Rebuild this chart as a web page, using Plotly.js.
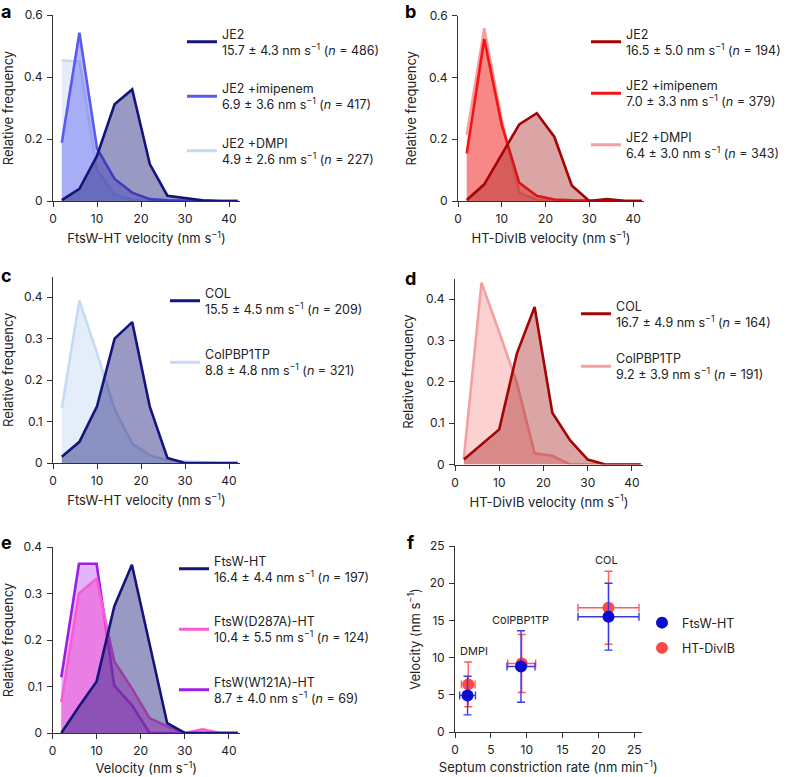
<!DOCTYPE html>
<html><head><meta charset="utf-8">
<script src="https://cdn.plot.ly/plotly-3.0.1.min.js"></script>
<style>body{margin:0;background:#fff}#chart{width:786px;height:777px}</style>
</head><body><div id="chart"></div>
<script>
// ---- data ----
const velocityBins = [2, 6, 10, 14, 18, 22, 26, 30, 34, 38, 42];

// panel a (FtsW-HT)
const aJE2      = [0.003, 0.039, 0.146, 0.312, 0.360, 0.119, 0.017, 0.010, 0.002, 0, 0];
const aImipenem = [0.188, 0.543, 0.170, 0.071, 0.027, 0.006, 0.002, 0, 0, 0, 0];
const aDMPI     = [0.454, 0.450, 0.100, 0.020, 0.004, 0, 0, 0, 0, 0, 0];
const aNames = ["JE2<br>15.7 ± 4.3 nm s<sup>−1</sup> (<i>n</i> = 486)",
                "JE2 +imipenem<br>6.9 ± 3.6 nm s<sup>−1</sup> (<i>n</i> = 417)",
                "JE2 +DMPI<br>4.9 ± 2.6 nm s<sup>−1</sup> (<i>n</i> = 227)"];

// panel b (HT-DivIB)
const bJE2      = [0.003, 0.054, 0.151, 0.248, 0.284, 0.208, 0.050, 0.000, 0.006, 0.001, 0];
const bImipenem = [0.154, 0.524, 0.246, 0.059, 0.017, 0.005, 0.002, 0, 0, 0, 0];
const bDMPI     = [0.214, 0.559, 0.262, 0.027, 0.003, 0, 0, 0, 0, 0, 0];
const bNames = ["JE2<br>16.5 ± 5.0 nm s<sup>−1</sup> (<i>n</i> = 194)",
                "JE2 +imipenem<br>7.0 ± 3.3 nm s<sup>−1</sup> (<i>n</i> = 379)",
                "JE2 +DMPI<br>6.4 ± 3.0 nm s<sup>−1</sup> (<i>n</i> = 343)"];

// panel c (FtsW-HT)
const cCOL = [0.015, 0.051, 0.137, 0.300, 0.340, 0.136, 0.012, 0, 0, 0, 0];
const cPBP = [0.132, 0.392, 0.265, 0.130, 0.047, 0.019, 0.006, 0.004, 0.002, 0, 0];
const cNames = ["COL<br>15.5 ± 4.5 nm s<sup>−1</sup> (<i>n</i> = 209)",
                "ColPBP1TP<br>8.8 ± 4.8 nm s<sup>−1</sup> (<i>n</i> = 321)"];

// panel d (HT-DivIB)
const dCOL = [0.012, 0.048, 0.085, 0.269, 0.381, 0.125, 0.059, 0.012, 0, 0, 0];
const dPBP = [0.015, 0.440, 0.320, 0.197, 0.027, 0.021, 0, 0, 0, 0, 0];
const dNames = ["COL<br>16.7 ± 4.9 nm s<sup>−1</sup> (<i>n</i> = 164)",
                "ColPBP1TP<br>9.2 ± 3.9 nm s<sup>−1</sup> (<i>n</i> = 191)"];

// panel e
const eFtsW  = [0, 0.057, 0.111, 0.272, 0.362, 0.190, 0.021, 0, 0, 0, 0];
const eD287A = [0.066, 0.300, 0.332, 0.154, 0.096, 0.032, 0.014, 0, 0.008, 0, 0];
const eW121A = [0.120, 0.364, 0.364, 0.102, 0.060, 0, 0, 0, 0, 0, 0];
const eNames = ["FtsW-HT<br>16.4 ± 4.4 nm s<sup>−1</sup> (<i>n</i> = 197)",
                "FtsW(D287A)-HT<br>10.4 ± 5.5 nm s<sup>−1</sup> (<i>n</i> = 124)",
                "FtsW(W121A)-HT<br>8.7 ± 4.0 nm s<sup>−1</sup> (<i>n</i> = 69)"];

// panel f
const fConditions = ["DMPI", "ColPBP1TP", "COL"];
const fFtsWRate   = [1.75, 9.2, 21.4];
const fFtsWRateErr= [1.1, 1.95, 4.25];
const fFtsWVel    = [4.9, 8.8, 15.5];
const fFtsWVelErr = [2.6, 4.8, 4.5];
const fDivIBRate   = [1.85, 9.3, 21.4];
const fDivIBRateErr= [0.95, 1.95, 4.25];
const fDivIBVel    = [6.4, 9.2, 16.7];
const fDivIBVelErr = [3.0, 3.9, 4.9];

// ---- styling ----
const FONT = "Inter, 'Open Sans', sans-serif";
const navy = '#14147c', navyFill = 'rgba(28,28,122,0.45)';
const blueMid = '#5a5af2', blueMidFill = 'rgba(95,95,240,0.45)';
const blueLight = '#c4daf5', blueLightFill = 'rgba(196,218,245,0.45)';
const darkRed = '#a30505', darkRedFill = 'rgba(165,30,30,0.40)';
const red = '#f41414', redFill = 'rgba(245,45,45,0.45)';
const pinkLight = '#f5a0a0', pinkLightFill = 'rgba(245,140,140,0.40)';
const magenta = '#fb5ad8', magentaFill = 'rgba(240,80,215,0.55)';
const purple = '#9e1be8', purpleFill = 'rgba(175,60,235,0.38)';

const traces = [];
function hist(y, color, fill, n) {
  traces.push({x: velocityBins, y: y, xaxis: 'x' + n, yaxis: 'y' + n, type: 'scatter', mode: 'lines',
    line: {color: color, width: 2.6}, fill: 'tozeroy', fillcolor: fill, showlegend: false, hoverinfo: 'skip'});
}
function key(name, color, n, legendId) {
  traces.push({x: [null], y: [null], xaxis: 'x' + n, yaxis: 'y' + n, type: 'scatter', mode: 'lines',
    line: {color: color, width: 3}, name: name, legend: legendId, legendgroup: legendId + name, showlegend: true});
}

// a
hist(aDMPI, blueLight, blueLightFill, ''); hist(aImipenem, blueMid, blueMidFill, ''); hist(aJE2, navy, navyFill, '');
key(aNames[0], navy, '', 'legend'); key(aNames[1], blueMid, '', 'legend'); key(aNames[2], blueLight, '', 'legend');
// b
hist(bDMPI, pinkLight, pinkLightFill, 2); hist(bImipenem, red, redFill, 2); hist(bJE2, darkRed, darkRedFill, 2);
key(bNames[0], darkRed, 2, 'legend2'); key(bNames[1], red, 2, 'legend2'); key(bNames[2], pinkLight, 2, 'legend2');
// c
hist(cPBP, blueLight, blueLightFill, 3); hist(cCOL, navy, navyFill, 3);
key(cNames[0], navy, 3, 'legend3'); key(cNames[1], blueLight, 3, 'legend3');
// d
hist(dPBP, pinkLight, pinkLightFill, 4); hist(dCOL, darkRed, darkRedFill, 4);
key(dNames[0], darkRed, 4, 'legend4'); key(dNames[1], pinkLight, 4, 'legend4');
// e
hist(eW121A, purple, purpleFill, 5); hist(eD287A, magenta, magentaFill, 5); hist(eFtsW, navy, navyFill, 5);
key(eNames[0], navy, 5, 'legend5'); key(eNames[1], magenta, 5, 'legend5'); key(eNames[2], purple, 5, 'legend5');

// f
traces.push({x: fDivIBRate, y: fDivIBVel, xaxis: 'x6', yaxis: 'y6', type: 'scatter', mode: 'markers',
  name: 'HT-DivIB', legend: 'legend6', legendrank: 2, legendgroup: 'divib',
  marker: {color: '#ff4848', size: 12},
  error_x: {type: 'data', array: fDivIBRateErr, color: '#ff5a5a', thickness: 1.4, width: 4},
  error_y: {type: 'data', array: fDivIBVelErr, color: '#ff5a5a', thickness: 1.4, width: 4}});
traces.push({x: fFtsWRate, y: fFtsWVel, xaxis: 'x6', yaxis: 'y6', type: 'scatter', mode: 'markers',
  name: 'FtsW-HT', legend: 'legend6', legendrank: 1, legendgroup: 'ftsw',
  marker: {color: '#0a0ad0', size: 12},
  error_x: {type: 'data', array: fFtsWRateErr, color: '#3a3ae0', thickness: 1.4, width: 4},
  error_y: {type: 'data', array: fFtsWVelErr, color: '#3a3ae0', thickness: 1.4, width: 4}});

// ---- axes ----
const W = 786, H = 777;
const px = (a, b) => [a / W, b / W];
const py = (top, bottom) => [1 - bottom / H, 1 - top / H];
function ax(extra) {
  return Object.assign({showline: true, linecolor: '#333', linewidth: 1, ticks: 'outside', ticklen: 5,
    tickcolor: '#333', tickwidth: 1, showgrid: false, zeroline: false, fixedrange: true, ticklabelstandoff: 2,
    tickfont: {family: FONT, size: 12, color: '#222'}}, extra);
}
function ttl(t, standoff) { return {text: t, font: {family: FONT, size: 13, color: '#222'}, standoff: standoff}; }
const velTicks = [0, 10, 20, 30, 40];

const layout = {
  width: W, height: H, margin: {l: 0, r: 0, t: 0, b: 0}, paper_bgcolor: '#fff', plot_bgcolor: 'rgba(0,0,0,0)',
  font: {family: FONT, color: '#222'},
  xaxis:  ax({domain: px(53, 240), range: [0, 42.5], tickvals: velTicks, anchor: 'y', title: ttl('FtsW-HT velocity (nm s<sup>−1</sup>)', 8)}),
  yaxis:  ax({domain: py(15, 201), range: [0, 0.6], dtick: 0.2, anchor: 'x', title: ttl('Relative frequency', 9)}),
  xaxis2: ax({domain: px(458, 644), range: [0, 42.5], tickvals: velTicks, anchor: 'y2', title: ttl('HT-DivIB velocity (nm s<sup>−1</sup>)', 8)}),
  yaxis2: ax({domain: py(15.5, 201), range: [0, 0.6], dtick: 0.2, anchor: 'x2', title: ttl('Relative frequency', 9)}),
  xaxis3: ax({domain: px(53, 240), range: [0, 42.5], tickvals: velTicks, anchor: 'y3', title: ttl('FtsW-HT velocity (nm s<sup>−1</sup>)', 8)}),
  yaxis3: ax({domain: py(276.5, 463), range: [0, 0.45], tickvals: [0, 0.1, 0.2, 0.3, 0.4], anchor: 'x3', title: ttl('Relative frequency', 9)}),
  xaxis4: ax({domain: px(455, 643), range: [0, 42.5], tickvals: velTicks, anchor: 'y4', title: ttl('HT-DivIB velocity (nm s<sup>−1</sup>)', 8)}),
  yaxis4: ax({domain: py(278.5, 464.5), range: [0, 0.45], tickvals: [0, 0.1, 0.2, 0.3, 0.4], anchor: 'x4', title: ttl('Relative frequency', 9)}),
  xaxis5: ax({domain: px(52.5, 240), range: [0, 42.5], tickvals: velTicks, anchor: 'y5', title: ttl('Velocity (nm s<sup>−1</sup>)', 6)}),
  yaxis5: ax({domain: py(547, 733), range: [0, 0.4], tickvals: [0, 0.1, 0.2, 0.3, 0.4], anchor: 'x5', title: ttl('Relative frequency', 9)}),
  xaxis6: ax({domain: px(455, 641.5), range: [0, 26], tickvals: [0, 5, 10, 15, 20, 25], anchor: 'y6', title: ttl('Septum constriction rate (nm min<sup>−1</sup>)', 6)}),
  yaxis6: ax({domain: py(546, 732), range: [0, 25], tickvals: [0, 5, 10, 15, 20, 25], anchor: 'x6', title: ttl('Velocity (nm s<sup>−1</sup>)', 6)}),
  annotations: [],
};

function legendAt(textLeft, top, gap) {
  return {x: (textLeft - 40) / W, y: 1 - top / H, xanchor: 'left', yanchor: 'top', bgcolor: 'rgba(0,0,0,0)',
    borderwidth: 0, font: {family: FONT, size: 12.5, color: '#222'}, tracegroupgap: gap, itemwidth: 30};
}
layout.legend  = legendAt(222, 19, 19);
layout.legend2 = legendAt(626, 19, 16);
layout.legend3 = legendAt(205, 278, 26);
layout.legend4 = legendAt(616, 291, 17);
layout.legend5 = legendAt(214, 546, 25);
layout.legend6 = Object.assign(legendAt(682, 608, 6), {itemsizing: 'constant'});

// panel letters
const letters = [['a', 6, 12], ['b', 410, 12], ['c', 6, 276], ['d', 410, 278], ['e', 6, 542], ['f', 410, 542]];
letters.forEach(([t, x, y]) => layout.annotations.push({text: '<b>' + t + '</b>', xref: 'paper', yref: 'paper',
  x: x / W, y: 1 - y / H, xanchor: 'center', yanchor: 'middle', showarrow: false,
  font: {family: FONT, size: 18, color: '#000'}}));

// panel f condition labels
const fLabelShift = [6, 0, -2];
fConditions.forEach((c, i) => {
  const top = Math.max(fFtsWVel[i] + fFtsWVelErr[i], fDivIBVel[i] + fDivIBVelErr[i]);
  layout.annotations.push({text: c, xref: 'x6', yref: 'y6', x: fFtsWRate[i], y: top, xanchor: 'center',
    yanchor: 'bottom', yshift: 2, xshift: fLabelShift[i], showarrow: false, font: {family: FONT, size: 11, color: '#222'}});
});

Plotly.newPlot('chart', traces, layout, {displayModeBar: false, staticPlot: true});
</script>
</body></html>
